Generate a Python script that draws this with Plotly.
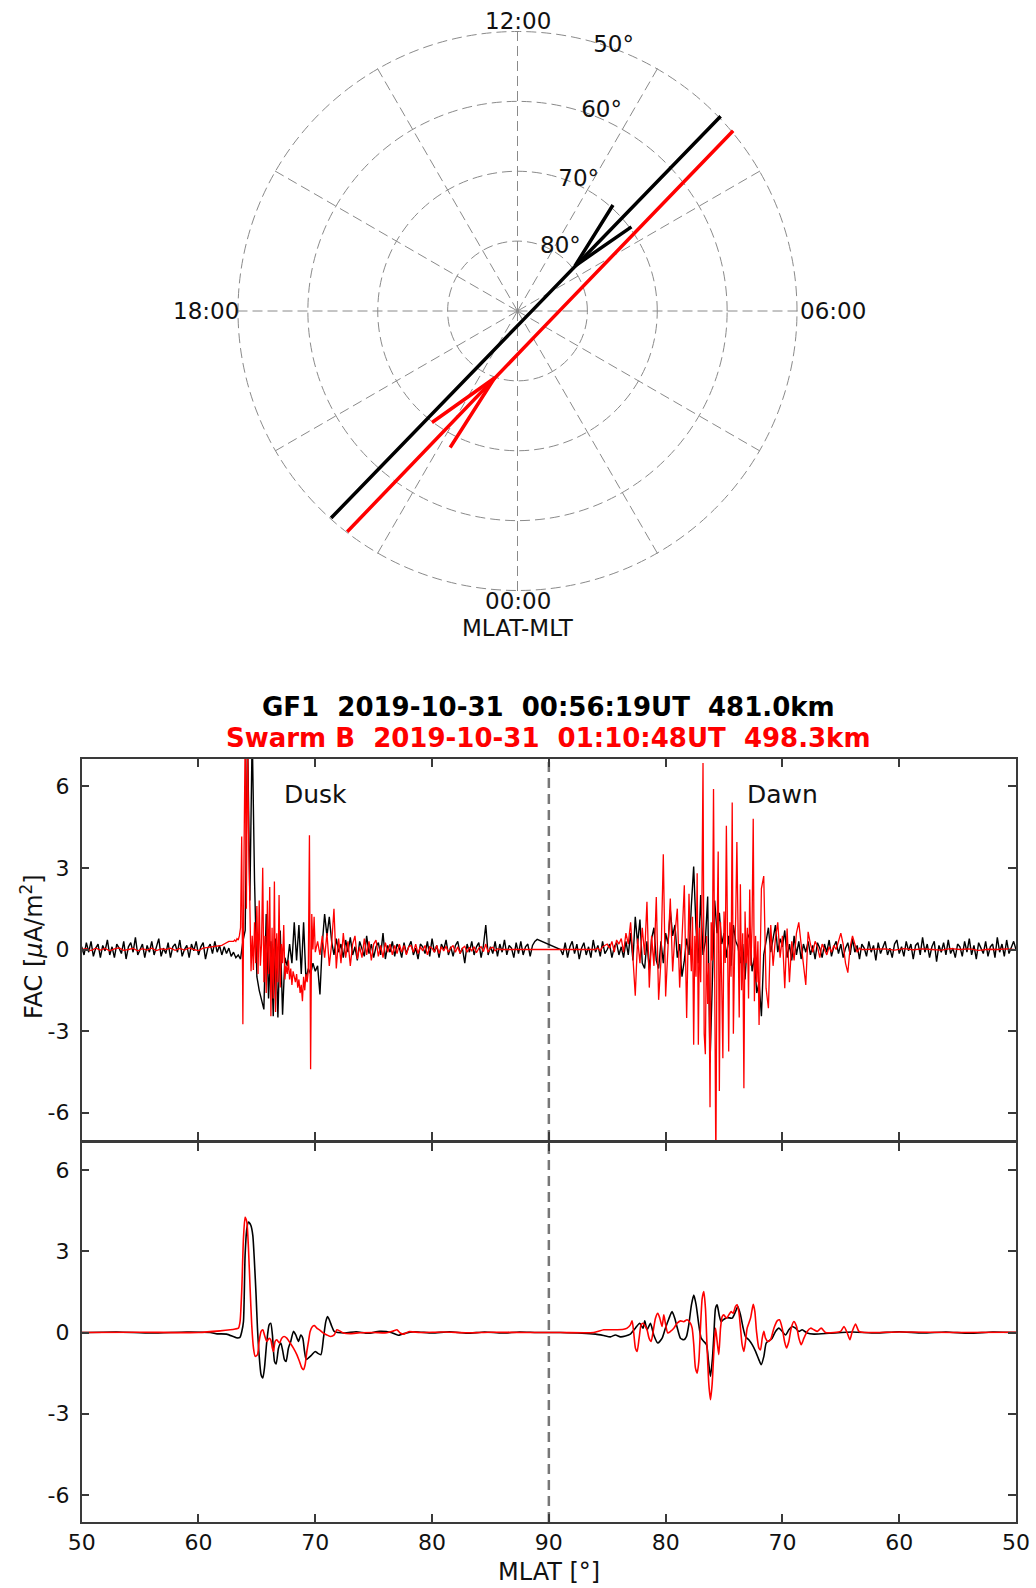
import plotly.graph_objects as go

# ---------------- axis / tick data ----------------
XTICK_S = [0, 10, 20, 30, 40, 50, 60, 70, 80]          # distance along pass (deg)
XTICK_TEXT = ["50", "60", "70", "80", "90", "80", "70", "60", "50"]
YTICKS = [-6, -3, 0, 3, 6]
YTICK_TEXT = ["-6", "-3", "0", "3", "6"]
POLE_S = 40

# ---------------- polar (MLAT-MLT) data ----------------
gf1_track_mlat = [49.67, 88.53, 50.13]
gf1_track_mlt = [8.92, 3.08, 21.20]
swb_track_mlat = [50.11, 85.69, 49.77]
swb_track_mlt = [21.49, 3.07, 8.66]
gf1_arrow_mlat = [69.58, 79.55, 69.73]
gf1_arrow_mlt = [9.20, 8.54, 8.43]
swb_arrow_mlat = [69.89, 79.86, 68.21]
swb_arrow_mlt = [21.50, 22.74, 22.25]
ring_mlat = [50, 60, 70, 80]
ring_label_colat = [40.28, 31.04, 20.69, 11.03]
ring_label_mlt = [10.67, 10.48, 10.33, 9.74]
mlt_grid_hours = [0, 2, 4, 6, 8, 10, 12, 14, 16, 18, 20, 22]
mlt_labels = ["12:00", "18:00", "06:00", "00:00"]

# ---------------- top panel: raw FAC ----------------
STEP = 0.2
gf1_dusk_q1_start = 0.0
gf1_dusk_q1 = [0.1, -0.2, 0.25, -0.1, 0.3, -0.25, 0.05, 0.2, -0.3, 0.15,
               -0.05, 0.35, -0.2, 0.1, -0.3, 0.2, 0.05, -0.15, 0.3, -0.35,
               0.1, 0.25, -0.1, 0.45, -0.2, 0.0, 0.2, -0.3, 0.15, -0.1,
               0.3, -0.2, 0.1, 0.4, -0.25, 0.05, -0.15, 0.25, -0.3, 0.1,
               0.2, -0.1, 0.35, -0.25, 0.0, 0.15, -0.3, 0.2, -0.05, 0.3,
               -0.2, 0.1, 0.25, -0.35, 0.05, 0.2, -0.15, 0.3, -0.1, 0.15, -0.2]
gf1_dusk_ev_start = 12.2
gf1_dusk_ev = [0.1, -0.15, 0.05, -0.25, -0.1, -0.3, -0.2, -0.35, 0.3, 0.7,
               8.0, 1.8, 8.0, 2.5, -1.0, -1.5, -1.9, -2.2, 1.3, -1.8,
               0.3, -2.45, 0.4, -2.5, 0.7, -2.4, -0.3, -0.6, 0.2, -0.5,
               1.0, -0.4, 0.9, -0.9, 1.0, -1.1, -0.7, -0.9, -0.5, -0.8,
               -0.6, -1.65, 0.2, 1.3, 0.5, 1.2, 0.3, -0.2, 0.4, -0.1]
gf1_dusk_q2_start = 22.2
gf1_dusk_q2 = [0.2, -0.3, 0.35, -0.1, 0.45, -0.2, 0.1, -0.4, 0.3, 0.05,
               -0.25, 0.5, -0.15, 0.2, -0.3, 0.1, 0.25, -0.2, 0.6, -0.35,
               0.15, -0.1, 0.3, -0.25, 0.2, 0.05, -0.3, 0.25, -0.15, 0.1,
               0.3, -0.2, 0.05, -0.35, 0.2, 0.1, -0.15, 0.3, -0.25, 0.4,
               -0.1, 0.15, -0.3, 0.2, 0.0, 0.35, -0.2, 0.1, -0.25, 0.15,
               0.3, -0.15, 0.05, -0.5, 0.2, -0.1, 0.3, -0.2, 0.1, 0.25,
               -0.3, 0.15, 0.9, -0.2, 0.1, -0.15, 0.3, -0.25, 0.2, -0.1,
               0.35, -0.2, 0.15, 0.05, -0.3, 0.25, -0.15, 0.3, -0.2, 0.1,
               0.2, -0.25, 0.15, 0.3, 0.37]
gf1_dawn_q1_start = 41.0
gf1_dawn_q1 = [0.0, -0.2, 0.25, -0.3, 0.1, 0.3, -0.15, 0.2, -0.35, 0.05,
               0.25, -0.2, 0.1, -0.3, 0.35, -0.1, 0.15, -0.25, 0.3, -0.15,
               0.0, 0.2, -0.3, 0.1, 0.25, -0.2]
gf1_dawn_ev_start = 46.2
gf1_dawn_ev = [0.1, -0.3, 0.3, -0.2, 0.6, -0.4, 1.2, 0.2, 1.1, -0.5,
               -0.7, 0.3, -0.75, 0.4, 0.8, -0.4, -0.7, 0.3, -0.5, 0.6,
               0.2, 1.45, 0.5, 0.9, -0.3, 0.2, -1.0, -0.4, 0.4, -0.2,
               1.6, 3.05, 0.8, -0.5, 2.0, -0.2, 0.3, 1.95, -4.15, -0.8,
               1.8, 0.6, 1.35, 0.2, 0.6, -0.3, 0.5, -0.6, 0.9, 0.3,
               0.1, -0.5, 0.2, -1.1, 0.4, 0.6, -0.8, -0.3, -1.6, -1.2,
               -2.45, -0.2, 0.3, 0.8, -0.1, 0.35, 0.9, -0.1, 0.4, 0.1,
               0.7, -0.3, 0.2, -0.4, 0.5, -0.2, 0.3, -0.35, 0.2, -0.1]
gf1_dawn_q2_start = 62.2
gf1_dawn_q2 = [0.3, -0.2, 0.15, -0.35, 0.25, 0.05, -0.3, 0.2, -0.1, 0.35,
               -0.25, 0.1, 0.3, -0.15, 0.2, -0.3, 0.05, 0.25, -0.2, 0.4,
               -0.1, 0.15, -0.35, 0.2, 0.05, -0.25, 0.3, -0.1, 0.15, -0.4,
               0.25, -0.15, 0.1, 0.3, -0.2, 0.05, -0.3, 0.2, 0.35, -0.15,
               0.1, -0.25, 0.3, -0.05, 0.2, -0.35, 0.15, 0.25, -0.2, 0.45,
               -0.1, 0.2, -0.3, 0.1, 0.3, -0.45, 0.15, -0.1, 0.25, -0.2,
               0.35, -0.15, 0.05, -0.3, 0.2, 0.1, -0.25, 0.3, -0.1, 0.4,
               -0.2, 0.15, -0.35, 0.25, 0.05, -0.15, 0.3, -0.25, 0.1, 0.2,
               -0.3, 0.45, -0.1, 0.2, -0.25, 0.35, -0.15, 0.1, 0.3, 0.0]

swb_dusk_flat_start, swb_dusk_flat_step = 0.0, 0.4
swb_dusk_flat = [0.0, 0.03, -0.04, 0.05, -0.02, 0.04, -0.05, 0.02, 0.06, -0.03,
                 0.0, 0.04, -0.05, 0.03, -0.02, 0.05, -0.04, 0.02, 0.0, 0.05,
                 -0.03, 0.04, -0.02, 0.06, 0.0, -0.04, 0.05, 0.08, 0.1, 0.12, 0.15]
swb_dusk_pre_start = 12.2
swb_dusk_pre = [0.2, 0.25, 0.3, 0.3]
swb_dusk_ev_start, swb_dusk_ev_step = 13.0, 0.1
swb_dusk_ev = [0.3, 0.35, 0.3, 0.4, 0.35, 0.5, 0.8, 4.15, -2.75, 3.5,
               8.0, 1.5, 8.0, 4.0, 1.8, -0.8, 0.5, -0.75, 1.0, -0.5,
               1.6, -0.9, 1.8, -0.6, 0.2, 3.0, -1.2, 0.5, -1.6, 1.8,
               -0.9, 2.3, -2.45, 0.8, -1.8, 2.5, -2.3, 0.6, -1.2, 2.0,
               -1.4, 0.2, -0.5, 0.9, -1.1, -0.6, -0.9, -0.4, -1.1, -0.7,
               -1.3, -0.8, -1.0, -1.2, -0.9, -1.4, -1.1, -1.6, -1.3, -1.9,
               -1.0, -1.5, -0.9, -1.2, -0.8, 4.2, -4.4, 1.3, 0.0, 1.2,
               -0.1]
swb_dusk_tail_start = 20.2
swb_dusk_tail = [0.3, -0.2, 0.5, -0.3, 0.6, -0.6, 0.2, 1.5, -0.7, 0.4,
                 -0.5, 0.6, -0.3, 0.3, -0.6, 0.2, 0.5, -0.35, 0.1, -0.3,
                 0.4, -0.2, 0.3, -0.4, 0.2, 0.35, -0.25, 0.15, -0.3, 0.25,
                 -0.1, 0.2, -0.2, 0.15, -0.15, 0.2, -0.1, 0.15, -0.2, 0.1,
                 0.15, -0.1, 0.2, -0.15, 0.1, -0.05, 0.15, -0.2, 0.1, 0.05,
                 -0.1, 0.15, -0.15, 0.1, -0.05, 0.12, -0.1, 0.05, 0.15, -0.1,
                 0.1, -0.15, 0.05, 0.12, -0.1, 0.08, -0.05, 0.1, -0.12, 0.05,
                 0.1, -0.08, 0.2, -0.1, 0.05, 0.08, -0.05, 0.03, 0.0, 0.0]
swb_dawn_lead_start = 44.0
swb_dawn_lead = [0.0, 0.05, -0.05, 0.1, 0.15, 0.2, 0.05, 0.3, -0.1, 0.35, 0.2]
swb_dawn_a_start = 46.2
swb_dawn_a = [0.4, -0.1, 0.6, 0.2, 1.0, -0.3, -1.7, 0.4, -0.5, 0.8,
              -0.2, 1.75, -1.4, 0.5, -0.6, 1.93, -1.85, -0.4, 3.5, -1.73,
              0.3, 1.87, -0.81, 0.6, 1.5, -1.4, 0.4, 2.36, -2.52]
swb_dawn_b_start, swb_dawn_b_step = 52.0, 0.1
swb_dawn_b = [2.05, 0.3, -0.8, 1.2, -3.5, 0.5, -1.0, 2.8, -3.5, 0.8,
              -1.2, 1.5, 6.85, -3.1, -3.85, 0.5, -2.0, -0.5, -5.8, 1.0,
              -0.4, 5.9, -1.5, -8.0, 0.5, 3.6, -5.2, 1.0, -1.2, -4.0,
              1.4, -0.5, 4.55, 0.2, -3.75, 1.0, -1.0, 5.4, -3.1, -0.2,
              1.2, 3.95, -0.8, -2.5, 2.4, -1.5, 0.6, -5.1, 1.4, -0.5,
              0.8, -1.8, 2.2, -0.6, 0.9, 4.8, -1.9, 0.5, -1.2, 0.3,
              -2.77]
swb_dawn_c_start = 58.2
swb_dawn_c = [2.24, 2.7, -1.42, -2.16, 0.9, -0.6, 0.4, 1.0, -0.3, 0.5,
              -1.42, 0.77, -1.2, 0.3, -0.4, 0.6, 1.0, 0.2, -0.6, -1.3,
              0.65, 0.2, -0.1, 0.3, 0.1, -0.3, 0.2, 0.0, -0.2, 0.1,
              -0.1, 0.15, 0.0, 0.3, 0.6, 0.2, -0.5, -0.85, 0.1, 0.5,
              0.2, -0.1, 0.05, 0.0, 0.0]
swb_dawn_flat_start, swb_dawn_flat_step = 68.0, 0.8
swb_dawn_flat = [0.0, 0.02, -0.02, 0.03, -0.01, 0.02, 0.0, -0.02,
                 0.03, 0.0, 0.02, -0.03, 0.01, 0.0, 0.02, -0.01]

# ---------------- bottom panel: filtered FAC ----------------
gf1_filt_s = [0, 3, 6, 9, 11, 11.6, 12.4, 13.3, 13.55, 13.71, 13.85, 13.99, 14.14, 14.28,
              14.48, 14.65, 14.79, 14.93, 15.05, 15.19, 15.36, 15.51, 15.65, 15.85, 16.05,
              16.19, 16.33, 16.51, 16.65, 16.85, 17.05, 17.22, 17.36, 17.5, 17.7, 17.9,
              18.13, 18.33, 18.56, 18.76, 18.93, 19.08, 19.22, 19.42, 19.71, 19.99, 20.19,
              20.48, 20.7, 20.9, 21.05, 21.22, 21.42, 21.62, 22.5, 23.5, 24.5, 25.5, 26.5,
              27.1, 27.5, 28.5, 30, 31.5, 33, 34.5, 36, 37.5, 39,
              41, 44.0, 44.7, 45.27, 45.7, 46.13, 46.56, 46.98, 47.41, 47.78, 48.07, 48.21,
              48.41, 48.7, 48.98, 49.33, 49.7, 49.98, 50.27, 50.55, 50.78, 51.04, 51.27,
              51.55, 51.78, 51.98, 52.21, 52.41, 52.61, 52.84, 53.04, 53.27, 53.5, 53.67,
              53.84, 54.01, 54.13, 54.27, 54.41, 54.58, 54.75, 54.92, 55.27, 55.7, 55.98,
              56.18, 56.41, 56.64, 56.84, 57.12, 57.41, 57.7, 57.98, 58.18, 58.41, 58.61,
              58.84, 59.12, 59.41, 59.7, 59.98, 60.27, 60.55, 60.84, 61.12, 61.41, 61.69,
              62.12, 62.7, 64, 66, 68, 70, 72, 74, 76, 78, 80]
gf1_filt_v = [0, 0.02, -0.02, 0.02, 0, -0.05, -0.06, -0.2, -0.18, 0.04, 0.4, 2.85, 3.84, 4.08,
              3.96, 3.59, 2.61, 1.39, 0.16, -0.82, -1.56, -1.68, -1.31, -0.33, 0.28,
              0.34, -0.09, -1.07, -1.16, -0.58, -0.39, -0.7, -1.0, -1.07, -0.58, -0.33,
              0.04, -0.09, -0.33, -0.09, -0.21, -0.7, -1.0, -0.94, -0.82, -0.7, -0.76,
              -0.82, -0.21, 0.4, 0.59, 0.45, 0.22, 0.04, -0.02, 0.03, -0.03, 0.04, 0.0,
              -0.1, -0.05, 0.03, -0.02, 0.03, -0.03, 0.02, -0.02, 0.02, 0.0,
              0.0, -0.06, -0.11, -0.16, -0.09, -0.16, -0.13, -0.06, 0.16, 0.34, 0.16, 0.43,
              0.1, 0.34, -0.09, -0.39, -0.21, 0.16, 0.5, 0.77, 0.53, 0.1, -0.21,
              -0.27, -0.15, 0.28, 1.02, 1.38, 1.02, 0.28, -0.21, -0.33, -0.45, -1.07,
              -1.62, -0.94, -0.09, 0.89, 1.02, 0.65, 0.4, 0.47, 0.55, 0.53, 0.77,
              0.96, 0.65, 0.16, -0.15, -0.27, -0.45, -0.7, -1.0, -1.19, -0.88, -0.39,
              -0.31, -0.21, 0.04, 0.16, 0.04, -0.09, 0.1, 0.22, 0.16, 0.04, 0.1,
              -0.02, -0.06, -0.03, 0.02, -0.02, 0.03, -0.02, 0.02, -0.03, 0.02, 0.0]
swb_filt_s = [0, 5, 10, 11.85, 12.71, 13.14, 13.42, 13.56, 13.71, 13.85, 13.99, 14.14, 14.28,
              14.42, 14.56, 14.71, 14.85, 15.05, 15.19, 15.36, 15.51, 15.65, 15.85, 16.05,
              16.19, 16.33, 16.42, 16.56, 16.71, 16.93, 17.13, 17.33, 17.56, 17.85, 18.13,
              18.42, 18.65, 18.85, 18.99, 19.13, 19.28, 19.42, 19.56, 19.76, 19.93, 20.13,
              20.36, 20.7, 20.99, 21.33, 21.62, 21.85, 22.08, 22.42, 23.0, 23.85, 25.0,
              26.13, 26.7, 26.99, 27.27, 27.56, 27.99, 29, 31, 33, 35, 38, 41, 43.84,
              44.7, 45.56, 46.41, 46.7, 46.98, 47.13, 47.27, 47.41, 47.56, 47.73, 47.9,
              48.07, 48.27, 48.41, 48.58, 48.76, 48.93, 49.13, 49.33, 49.5, 49.7, 49.84,
              49.98, 50.18, 50.41, 50.7, 50.98, 51.27, 51.55, 51.84, 52.13, 52.27, 52.41,
              52.55, 52.7, 52.84, 52.98, 53.13, 53.27, 53.41, 53.55, 53.7, 53.84, 53.98,
              54.13, 54.27, 54.41, 54.55, 54.7, 54.84, 54.98, 55.21, 55.41, 55.61, 55.78,
              55.98, 56.12, 56.27, 56.41, 56.55, 56.7, 56.84, 56.98, 57.27, 57.5, 57.64,
              57.78, 57.98, 58.12, 58.27, 58.41, 58.55, 58.75, 58.98, 59.27, 59.55, 59.75,
              59.98, 60.18, 60.35, 60.55, 60.75, 60.98, 61.21, 61.41, 61.61, 61.84, 62.12,
              62.41, 62.7, 62.98, 63.32, 63.69, 64.41, 64.98, 65.27, 65.55, 65.78, 65.98,
              66.26, 66.55, 67.0, 70, 75, 80]
swb_filt_v = [0, 0.01, 0.0, 0.06, 0.1, 0.13, 0.16, 0.4, 1.63, 3.47, 4.26, 4.08, 3.1,
              1.63, 0.28, -0.58, -0.88, -0.82, -0.33, 0.04, 0.1, -0.09, -0.33, -0.21,
              -0.27, -0.58, -0.7, -0.33, -0.27, -0.39, -0.21, -0.15, -0.21, -0.39, -0.58,
              -0.82, -1.07, -1.31, -1.37, -1.19, -0.7, -0.33, 0.04, 0.22, 0.26, 0.16,
              0.1, -0.02, -0.09, -0.15, -0.09, 0.1, 0.06, -0.02, -0.04, -0.01, 0.0,
              -0.01, 0.06, 0.1, -0.02, -0.06, 0.03, 0.0, 0.02, -0.01, 0.01, 0.0, 0.0, 0.0,
              0.1, 0.1, 0.12, 0.16, 0.28, 0.43, -0.02, -0.57, -0.7, -0.21, 0.28,
              0.34, 0.22, 0.1, -0.21, -0.33, 0.04, 0.53, 0.71, 0.53, 0.22, 0.65,
              0.34, -0.02, 0.04, 0.16, 0.34, 0.43, 0.4, 0.47, 0.34, 0.16, -0.45,
              -1.31, -1.5, -1.07, 0.16, 1.26, 1.51, 0.89, -0.57, -1.92, -2.48, -1.92,
              -0.7, 0.16, -0.33, -0.82, 0.16, 0.59, 0.65, 0.53, 0.65, 0.77, 0.71,
              0.96, 1.02, 0.77, 0.16, -0.45, -0.7, -0.33, 0.16, 0.53, 1.04, 0.77,
              0.04, -0.57, -0.64, -0.21, 0.04, -0.21, -0.33, -0.27, 0.16, 0.43, 0.47,
              0.16, -0.33, -0.57, -0.33, 0.16, 0.4, 0.22, -0.21, -0.45, -0.21, 0.04,
              0.16, 0.1, 0.04, 0.16, 0.0, 0.0, 0.04, 0.22, -0.02, -0.27, 0.04,
              0.31, 0.04, 0.0, 0.02, 0.0, 0.01]

TITLE_GF1 = "GF1\u00a0\u00a02019-10-31\u00a0\u00a000:56:19UT\u00a0\u00a0481.0km"
TITLE_SWB = "Swarm B\u00a0\u00a02019-10-31\u00a0\u00a001:10:48UT\u00a0\u00a0498.3km"


# ---------------- helpers ----------------
def seg(start, step, values):
    return [start + step * i for i in range(len(values))], list(values)


def join(*segs):
    xs, ys = [], []
    for sx, sy in segs:
        xs += sx
        ys += sy
    return xs, ys


gf1_top_x, gf1_top_y = join(seg(gf1_dusk_q1_start, STEP, gf1_dusk_q1),
                            seg(gf1_dusk_ev_start, STEP, gf1_dusk_ev),
                            seg(gf1_dusk_q2_start, STEP, gf1_dusk_q2),
                            seg(gf1_dawn_q1_start, STEP, gf1_dawn_q1),
                            seg(gf1_dawn_ev_start, STEP, gf1_dawn_ev),
                            seg(gf1_dawn_q2_start, STEP, gf1_dawn_q2))
swb_top_x, swb_top_y = join(seg(swb_dusk_flat_start, swb_dusk_flat_step, swb_dusk_flat),
                            seg(swb_dusk_pre_start, STEP, swb_dusk_pre),
                            seg(swb_dusk_ev_start, swb_dusk_ev_step, swb_dusk_ev),
                            seg(swb_dusk_tail_start, STEP, swb_dusk_tail),
                            seg(swb_dawn_lead_start, STEP, swb_dawn_lead),
                            seg(swb_dawn_a_start, STEP, swb_dawn_a),
                            seg(swb_dawn_b_start, swb_dawn_b_step, swb_dawn_b),
                            seg(swb_dawn_c_start, STEP, swb_dawn_c),
                            seg(swb_dawn_flat_start, swb_dawn_flat_step, swb_dawn_flat))

FONT = "DejaVu Sans"
BLACK = "#000000"
RED = "#ff0000"
GRID = "#8a8a8a"
AX = "#3a3a3a"

W, H = 1036, 1588
# pixel geometry
PX_L, PX_R = 81.7, 1016.0
TOP_T, TOP_B = 759.0, 1140.0
BOT_T, BOT_B = 1143.0, 1522.0
PC_X, PC_Y, PC_R = 517.5, 311.0, 281.6
# MLT label anchor points (12, 18, 06, 00) in page pixels
MLT_LABEL_PX = [(517.5, 20.5), (205.5, 311.0), (832.5, 311.0), (517.5, 601.0)]


def py(p):
    return 1 - p / H


fig = go.Figure()


def to_theta(mlt):
    return [m * 15 for m in mlt]


def to_colat(mlat):
    return [90 - m for m in mlat]


# ---- polar ----
fig.add_trace(go.Scatterpolar(r=to_colat(gf1_track_mlat), theta=to_theta(gf1_track_mlt),
                              mode="lines", line=dict(color=BLACK, width=3.5),
                              subplot="polar", hoverinfo="skip"))
fig.add_trace(go.Scatterpolar(r=to_colat(swb_track_mlat), theta=to_theta(swb_track_mlt),
                              mode="lines", line=dict(color=RED, width=3.5),
                              subplot="polar", hoverinfo="skip"))
fig.add_trace(go.Scatterpolar(r=to_colat(gf1_arrow_mlat), theta=to_theta(gf1_arrow_mlt),
                              mode="lines", line=dict(color=BLACK, width=3.5),
                              subplot="polar", hoverinfo="skip"))
fig.add_trace(go.Scatterpolar(r=to_colat(swb_arrow_mlat), theta=to_theta(swb_arrow_mlt),
                              mode="lines", line=dict(color=RED, width=3.5),
                              subplot="polar", hoverinfo="skip"))
fig.add_trace(go.Scatterpolar(r=ring_label_colat, theta=to_theta(ring_label_mlt),
                              mode="text", text=[f"{m}°" for m in ring_mlat],
                              textposition="middle center",
                              textfont=dict(family=FONT, size=23, color="#111"),
                              cliponaxis=False, subplot="polar", hoverinfo="skip"))

# ---- line plots ----
for xa, ya in (("x", "y"), ("x2", "y2")):
    fig.add_shape(type="line", xref=xa, yref=ya, x0=POLE_S, x1=POLE_S, y0=-7, y1=7,
                  line=dict(color="#777777", width=2.5, dash="10px,6px"), layer="below")

fig.add_trace(go.Scatter(x=gf1_top_x, y=gf1_top_y, mode="lines",
                         line=dict(color=BLACK, width=1.4), xaxis="x", yaxis="y"))
fig.add_trace(go.Scatter(x=swb_top_x, y=swb_top_y, mode="lines",
                         line=dict(color=RED, width=1.3), xaxis="x", yaxis="y"))
fig.add_trace(go.Scatter(x=gf1_filt_s, y=gf1_filt_v, mode="lines",
                         line=dict(color=BLACK, width=1.6, shape="spline", smoothing=0.6),
                         xaxis="x2", yaxis="y2"))
fig.add_trace(go.Scatter(x=swb_filt_s, y=swb_filt_v, mode="lines",
                         line=dict(color=RED, width=1.6, shape="spline", smoothing=0.6),
                         xaxis="x2", yaxis="y2"))

xcommon = dict(range=[0, 80], tickmode="array", tickvals=XTICK_S, ticktext=XTICK_TEXT,
               ticks="inside", ticklen=8, tickwidth=1.5, tickcolor=AX,
               showline=True, linecolor=AX, linewidth=1.5, mirror="ticks",
               showgrid=False, zeroline=False, automargin=False,
               domain=[PX_L / W, PX_R / W],
               tickfont=dict(family=FONT, size=22, color="#111"))
ycommon = dict(range=[-7, 7], tickmode="array", tickvals=YTICKS, ticktext=YTICK_TEXT,
               ticks="inside", ticklen=8, tickwidth=1.5, tickcolor=AX,
               showline=True, linecolor=AX, linewidth=1.5, mirror="ticks",
               showgrid=False, zeroline=False, automargin=False,
               tickfont=dict(family=FONT, size=22, color="#111"))

fig.update_layout(
    template="none",
    width=W, height=H, autosize=False,
    margin=dict(l=0, r=0, t=0, b=0, pad=0, autoexpand=False),
    paper_bgcolor="white", plot_bgcolor="white", showlegend=False,
    font=dict(family=FONT, color="#111"),
    xaxis=dict(**xcommon, anchor="y", showticklabels=False),
    yaxis=dict(**ycommon, anchor="x", domain=[py(TOP_B), py(TOP_T)], ticklabelstandoff=6),
    xaxis2=dict(**xcommon, anchor="y2", showticklabels=True, ticklabelstandoff=0),
    yaxis2=dict(**ycommon, anchor="x2", domain=[py(BOT_B), py(BOT_T)], ticklabelstandoff=6),
    polar=dict(
        domain=dict(x=[(PC_X - PC_R) / W, (PC_X + PC_R) / W],
                    y=[py(PC_Y + PC_R), py(PC_Y - PC_R)]),
        bgcolor="white",
        angularaxis=dict(rotation=-90, direction="counterclockwise", tickmode="array",
                         tickvals=to_theta(mlt_grid_hours), showticklabels=False,
                         ticks="", showline=False, showgrid=True, gridcolor=GRID,
                         gridwidth=1.2, griddash="10px,5px"),
        radialaxis=dict(range=[0, 40.3], tickmode="array", tickvals=[10, 20, 30, 40],
                        showticklabels=False, ticks="", showline=False, showgrid=True,
                        gridcolor=GRID, gridwidth=1.2, griddash="10px,5px"),
    ),
)

annotations = [
    dict(text=lab, xref="paper", yref="paper", x=px / W, y=py(pyy),
         xanchor="center", yanchor="middle", showarrow=False,
         font=dict(family=FONT, size=23, color="#111"))
    for lab, (px, pyy) in zip(mlt_labels, MLT_LABEL_PX)
]
annotations += [
    dict(text="MLAT-MLT", xref="paper", yref="paper", x=PC_X / W, y=py(628),
         xanchor="center", yanchor="middle", showarrow=False,
         font=dict(family=FONT, size=23, color="#111")),
    dict(text=f"<b>{TITLE_GF1}</b>", xref="paper", yref="paper", x=(PX_L + PX_R) / 2 / W,
         y=py(707), xanchor="center", yanchor="middle", showarrow=False,
         font=dict(family=FONT, size=26, color=BLACK)),
    dict(text=f"<b>{TITLE_SWB}</b>", xref="paper", yref="paper", x=(PX_L + PX_R) / 2 / W,
         y=py(738), xanchor="center", yanchor="middle", showarrow=False,
         font=dict(family=FONT, size=26, color=RED)),
    dict(text="Dusk", xref="x", yref="y", x=20, y=5.7, showarrow=False,
         xanchor="center", yanchor="middle", font=dict(family=FONT, size=25, color="#111")),
    dict(text="Dawn", xref="x", yref="y", x=60, y=5.7, showarrow=False,
         xanchor="center", yanchor="middle", font=dict(family=FONT, size=25, color="#111")),
    dict(text="FAC [<i>μ</i>A/m<sup>2</sup>]", xref="paper", yref="paper", x=32 / W,
         y=py(947), textangle=-90, xanchor="center", yanchor="middle", showarrow=False,
         font=dict(family=FONT, size=24, color="#111")),
    dict(text="MLAT [°]", xref="paper", yref="paper", x=(PX_L + PX_R) / 2 / W, y=py(1572),
         xanchor="center", yanchor="middle", showarrow=False,
         font=dict(family=FONT, size=24, color="#111")),
]
fig.update_layout(annotations=annotations)

fig.write_html("out.html", config={"displayModeBar": False},
               post_script="document.body.style.margin='0px';document.body.style.overflow='hidden';")
